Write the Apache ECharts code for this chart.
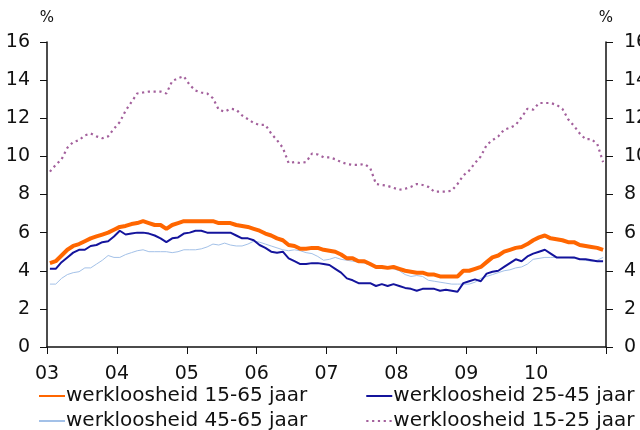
<!DOCTYPE html>
<html>
<head>
<meta charset="utf-8">
<script src="https://cdn.jsdelivr.net/npm/echarts@6/dist/echarts.min.js"></script>
<style>
  html, body { margin: 0; padding: 0; background: #fff; }
  #chart { width: 640px; height: 430px; }
</style>
</head>
<body>
<div id="chart"></div>
<script>
// jaartallen op de x-as (één tick per jaar, 12 maanden)
const yearLabels = ['03', '04', '05', '06', '07', '08', '09', '10'];

// werkloosheid 15-65 jaar, maandcijfers jan 2003 - dec 2010
const total = [
  4.4, 4.5, 4.8, 5.1, 5.3, 5.4, 5.55, 5.7, 5.8, 5.9, 6.0, 6.15,
  6.3, 6.35, 6.45, 6.5, 6.6, 6.5, 6.4, 6.4, 6.2, 6.4, 6.5, 6.6,
  6.6, 6.6, 6.6, 6.6, 6.6, 6.5, 6.5, 6.5, 6.4, 6.35, 6.3, 6.2,
  6.1, 5.95, 5.85, 5.7, 5.6, 5.35, 5.3, 5.15, 5.15, 5.2, 5.2, 5.1,
  5.05, 5.0, 4.85, 4.65, 4.65, 4.5, 4.5, 4.35, 4.2, 4.2, 4.15, 4.2,
  4.1, 4.0, 3.95, 3.9, 3.9, 3.8, 3.8, 3.7, 3.7, 3.7, 3.7, 4.0,
  4.0, 4.1, 4.2, 4.45, 4.7, 4.8, 5.0, 5.1, 5.2, 5.25, 5.4, 5.6,
  5.75, 5.85, 5.7, 5.65, 5.6, 5.5, 5.5, 5.35, 5.3, 5.25, 5.2, 5.1
];

// werkloosheid 25-45 jaar
const age2545 = [
  4.1, 4.1, 4.45, 4.7, 4.95, 5.1, 5.1, 5.3, 5.35, 5.5, 5.55, 5.8,
  6.1, 5.9, 5.95, 6.0, 6.0, 5.95, 5.85, 5.7, 5.5, 5.7, 5.75, 5.95,
  6.0, 6.1, 6.1, 6.0, 6.0, 6.0, 6.0, 6.0, 5.85, 5.7, 5.7, 5.6,
  5.35, 5.2, 5.0, 4.95, 5.0, 4.65, 4.5, 4.35, 4.35, 4.4, 4.4, 4.35,
  4.3, 4.1, 3.9, 3.6, 3.5, 3.35, 3.35, 3.35, 3.2, 3.3, 3.2, 3.3,
  3.2, 3.1, 3.05, 2.95, 3.05, 3.05, 3.05, 2.95, 3.0, 2.95, 2.9, 3.35,
  3.45, 3.55, 3.45, 3.85, 3.95, 4.0, 4.2, 4.4, 4.6, 4.5, 4.75, 4.9,
  5.0, 5.1, 4.9, 4.7, 4.7, 4.7, 4.7, 4.6, 4.6, 4.55, 4.5, 4.5
];

// werkloosheid 45-65 jaar
const age4565 = [
  3.3, 3.3, 3.6, 3.8, 3.9, 3.95, 4.15, 4.15, 4.35, 4.55, 4.8, 4.7,
  4.7, 4.85, 4.95, 5.05, 5.1, 5.0, 5.0, 5.0, 5.0, 4.95, 5.0, 5.1,
  5.1, 5.1, 5.15, 5.25, 5.4, 5.35, 5.45, 5.35, 5.3, 5.3, 5.4, 5.55,
  5.5, 5.4, 5.3, 5.2, 5.1, 5.05, 5.1, 5.05, 4.95, 4.9, 4.75, 4.55,
  4.6, 4.7, 4.6, 4.55, 4.5, 4.45, 4.4, 4.3, 4.25, 4.2, 4.2, 4.1,
  4.0, 3.8, 3.7, 3.75, 3.7, 3.5, 3.45, 3.4, 3.35, 3.3, 3.3, 3.3,
  3.3, 3.4, 3.6, 3.7, 3.8, 3.9, 4.0, 4.05, 4.15, 4.2, 4.35, 4.6,
  4.65, 4.7, 4.7, 4.7, 4.7, 4.7, 4.65, 4.6, 4.55, 4.5, 4.55, 4.7
];

// werkloosheid 15-25 jaar
const age1525 = [
  9.2, 9.55, 9.85, 10.45, 10.75, 10.85, 11.1, 11.2, 11.05, 10.95, 11.05, 11.45,
  11.8, 12.4, 12.85, 13.3, 13.35, 13.4, 13.4, 13.4, 13.3, 13.95, 14.1, 14.2,
  13.75, 13.45, 13.35, 13.3, 13.05, 12.45, 12.35, 12.5, 12.45, 12.15, 11.95, 11.75,
  11.65, 11.65, 11.2, 10.85, 10.45, 9.65, 9.7, 9.65, 9.7, 10.15, 10.1, 9.95,
  9.95, 9.85, 9.7, 9.6, 9.55, 9.55, 9.6, 9.4, 8.55, 8.5, 8.45, 8.35,
  8.25, 8.3, 8.4, 8.55, 8.5, 8.4, 8.15, 8.15, 8.15, 8.2, 8.55, 9.0,
  9.25, 9.65, 10.0, 10.6, 10.85, 11.05, 11.4, 11.5, 11.65, 12.05, 12.5, 12.45,
  12.8, 12.8, 12.8, 12.7, 12.5, 11.95, 11.6, 11.2, 10.9, 10.9, 10.65, 9.7
];

const names = [
  'werkloosheid 15-65 jaar',
  'werkloosheid 25-45 jaar',
  'werkloosheid 45-65 jaar',
  'werkloosheid 15-25 jaar'
];

const font = 'DejaVu Sans';
const ink = '#111';

// maandindex -> midden van de maand op de x-as
const toPoints = arr => arr.map((v, i) => [i + 0.5, v]);

const yAxisBase = {
  type: 'value',
  min: 0,
  max: 16,
  interval: 2,
  name: '%',
  nameLocation: 'end',
  nameGap: 16,
  nameTextStyle: { color: ink, fontFamily: font, fontSize: 15 },
  axisLine: { show: true, lineStyle: { color: ink, width: 1.5 } },
  axisTick: { show: true, length: 7, lineStyle: { color: ink } },
  axisLabel: { color: ink, fontFamily: font, fontSize: 19 },
  splitLine: { show: false }
};

const legendBase = {
  left: 38,
  padding: 0,
  itemWidth: 26,
  itemHeight: 14,
  itemGap: 58,
  itemStyle: { opacity: 0 },
  textStyle: { color: ink, fontFamily: font, fontSize: 20, padding: [0, 0, 0, -4] }
};

const chart = echarts.init(document.getElementById('chart'));
chart.setOption({
  animation: false,
  backgroundColor: '#fff',
  // rechter aslabels lopen in het origineel over de rand: niet inkrimpen
  grid: { left: 47, right: 34, top: 42, bottom: 83, containLabel: false, outerBoundsMode: 'none' },
  xAxis: {
    type: 'value',
    min: 0,
    max: 96,
    interval: 12,
    axisLine: { lineStyle: { color: ink, width: 1.5 } },
    axisTick: { length: 7, lineStyle: { color: ink } },
    axisLabel: {
      color: ink, fontFamily: font, fontSize: 19, margin: 18,
      formatter: v => yearLabels[v / 12] || ''
    },
    splitLine: { show: false }
  },
  yAxis: [
    Object.assign({}, yAxisBase, {
      position: 'left',
      axisLabel: Object.assign({}, yAxisBase.axisLabel, { margin: 17 })
    }),
    Object.assign({}, yAxisBase, {
      position: 'right',
      axisLabel: Object.assign({}, yAxisBase.axisLabel, { margin: 18 })
    })
  ],
  legend: [
    Object.assign({}, legendBase, { data: [names[0], names[1]], top: 386 }),
    Object.assign({}, legendBase, { data: [names[2], names[3]], top: 411 })
  ],
  series: [
    {
      name: names[2], type: 'line', symbol: 'none', z: 2,
      data: toPoints(age4565),
      itemStyle: { color: '#a3c1e8' },
      lineStyle: { color: '#a3c1e8', width: 1 }
    },
    {
      name: names[1], type: 'line', symbol: 'none', z: 3,
      data: toPoints(age2545),
      itemStyle: { color: '#14149c' },
      lineStyle: { color: '#14149c', width: 2 }
    },
    {
      name: names[0], type: 'line', symbol: 'none', z: 4,
      data: toPoints(total),
      itemStyle: { color: '#ff6600' },
      lineStyle: { color: '#ff6600', width: 4 }
    },
    {
      name: names[3], type: 'line', symbol: 'none', z: 1,
      data: toPoints(age1525),
      itemStyle: { color: '#a3609c' },
      lineStyle: { color: '#a3609c', width: 2.2, type: [2.2, 3.6] }
    }
  ]
});
</script>
</body>
</html>
